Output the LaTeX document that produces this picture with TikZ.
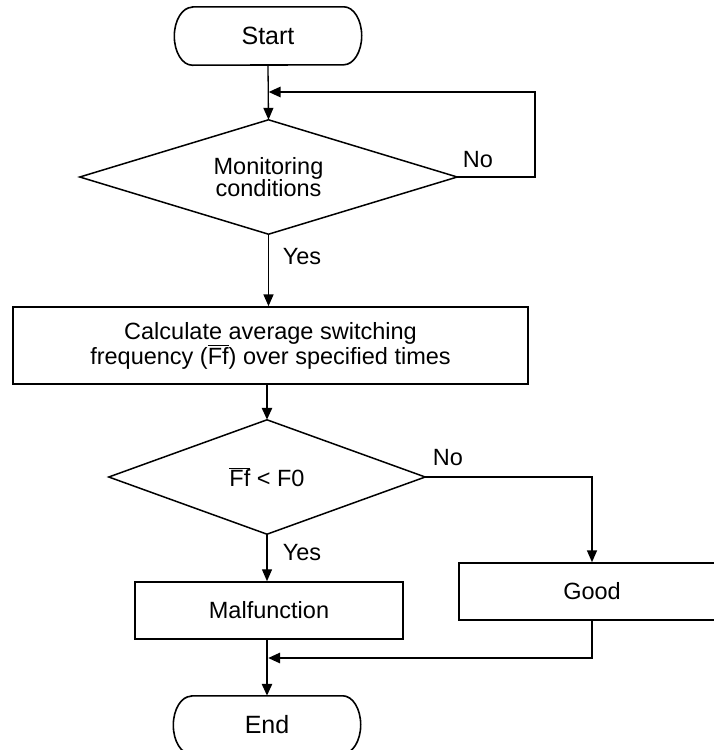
\documentclass[tikz,border=0pt]{standalone}
\usepackage{fontspec}
\setmainfont{Liberation Sans}
\usetikzlibrary{arrows.meta,shapes.geometric}
\newcommand{\ovbar}[1]{$\overline{\mbox{#1}}$}
\newcommand{\termborder}[1]{\draw[line width=1.6pt] ([xshift=18pt]#1.north west) -- ([xshift=-18pt]#1.north east) arc[start angle=90,end angle=-90,x radius=18pt,y radius=29pt] -- ([xshift=18pt]#1.south west) arc[start angle=270,end angle=90,x radius=18pt,y radius=29pt] -- cycle;}
\newcommand{\decborder}[1]{\draw[line width=1.5pt, line join=miter] (#1.north) -- (#1.east) -- (#1.south) -- (#1.west) -- cycle;}
\begin{document}
\begin{tikzpicture}[x=1pt,y=-1pt,
  txt/.style={font=\fontsize{23.5}{25}\selectfont},
  box/.style={draw, line width=1.5pt, inner sep=0pt, txt, align=center},
  term/.style={inner sep=0pt, font=\fontsize{25}{27}\selectfont, minimum width=187pt, minimum height=58pt},
  dec/.style={rectangle, inner sep=0pt, align=center, font=\fontsize{23.5}{22}\selectfont},
  tip/.style={-{Triangle[length=12pt,width=10pt]}},
  thinc/.style={tip, line width=1.3pt},
  midc/.style={tip, line width=1.7pt},
  thickc/.style={tip, line width=2.6pt},
  lbl/.style={txt, inner sep=0pt}
]
\useasboundingbox (0,0) rectangle (714,750);
% nodes
\node[term] (start) at (268,36) {Start};
\termborder{start}
\node[dec, minimum width=377pt, minimum height=114pt] (d1) at (268.5,177) {Monitoring\\conditions};
\decborder{d1}
\node[box, minimum width=515pt, minimum height=77pt] (calc) at (270.5,345.5) {Calculate average switching\\frequency (\ovbar{Ff}) over specified times};
\node[dec, minimum width=316pt, minimum height=114pt, font=\fontsize{23.5}{25}\selectfont] (d2) at (267,477) {\ovbar{Ff} < F0};
\decborder{d2}
\node[box, minimum width=268pt, minimum height=57pt] (mal) at (269,610.5) {Malfunction};
\node[box, minimum width=266pt, minimum height=57pt] (good) at (592,591.5) {Good};
\node[term] (end) at (267,725) {End};
\termborder{end}
% labels
\node[lbl] (no1) at (478,160) {No};
\node[lbl] (yes1) at (302,257) {Yes};
\node[lbl] (no2) at (448,458) {No};
\node[lbl] (yes2) at (302,553) {Yes};
% helper coordinates
\coordinate (loopr) at (535,92);
\coordinate (merge) at (268,658);
% connectors
\draw[thinc] (start.south) -- (d1.north);
\draw[thickc] (d1.east) -| (loopr) -- (loopr -| d1.north);
\draw[midc] (d1.south) -- (d1.south |- calc.north);
\draw[thickc] (d2.north |- calc.south) -- (d2.north);
\draw[midc] (d2.east) -| (good.north);
\draw[thinc] (d2.south) -- (d2.south |- mal.north);
\draw[thickc] (end.north |- mal.south) -- (end.north);
\draw[thickc] (good.south) |- (merge);
\end{tikzpicture}
\end{document}
